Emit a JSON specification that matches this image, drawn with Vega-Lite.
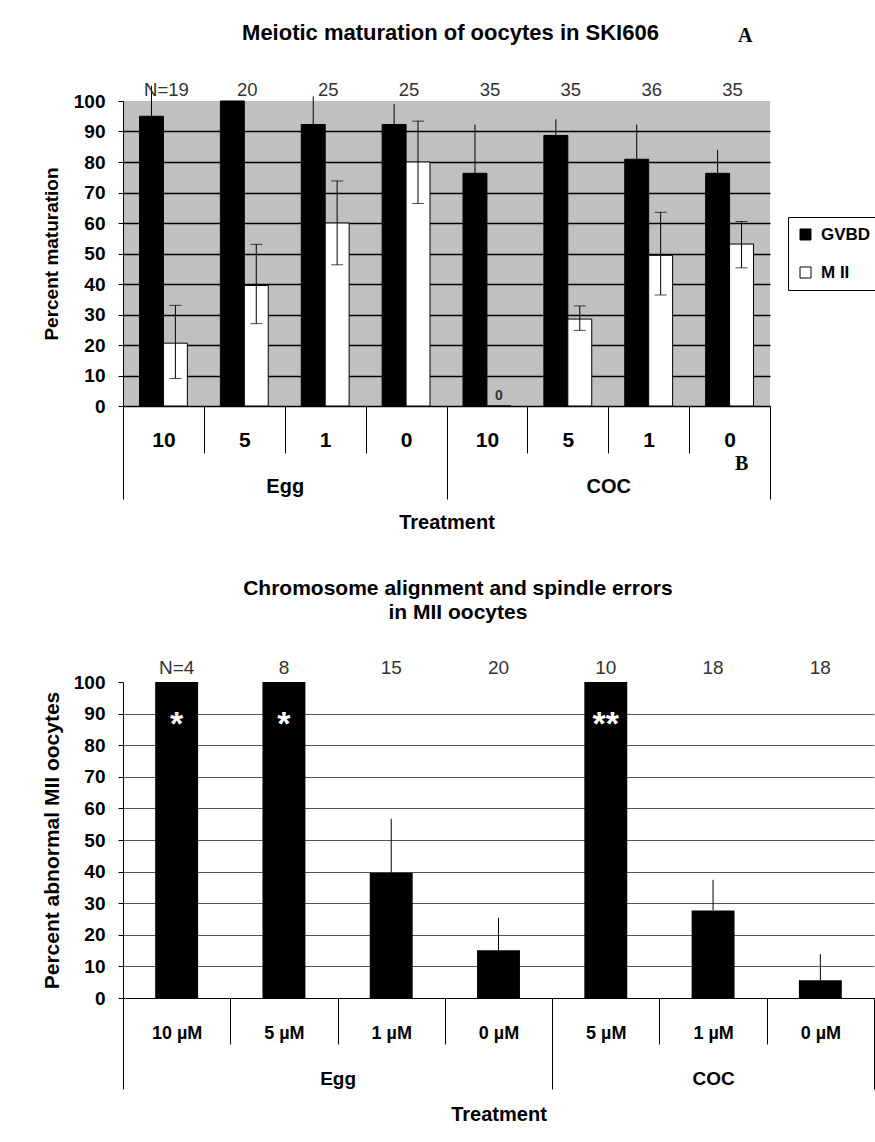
{
  "$schema": "https://vega.github.io/schema/vega-lite/v6.json",
  "background": "#ffffff",
  "padding": {"left": 41, "top": 22, "right": 0, "bottom": 10},
  "spacing": 45,
  "title": {"text": "A", "font": "Liberation Serif", "fontSize": 20, "fontWeight": "bold", "color": "#000000", "anchor": "end", "frame": "bounds", "offset": 0, "dx": -128, "dy": 24},
  "config": {
    "font": "Liberation Sans",
    "view": {"stroke": null},
    "axis": {"labelFont": "Liberation Sans", "titleFont": "Liberation Sans", "labelColor": "#000000", "titleColor": "#000000", "labelFontWeight": "bold", "titleFontWeight": "bold", "domainColor": "#000000", "tickColor": "#000000"},
    "axisY": {"tickCount": 20},
    "title": {"font": "Liberation Sans", "fontWeight": "bold", "color": "#000000"}
  },
  "resolve": {"scale": {"x": "independent", "y": "independent", "fill": "independent"}},
  "vconcat": [
    {
      "width": 647,
      "height": 305,
      "view": {"fill": "#c0c0c0", "stroke": null},
      "title": {"text": "Meiotic maturation of oocytes in SKI606", "fontSize": 22, "anchor": "middle", "frame": "group", "offset": 36, "dx": 4},
      "layer": [
        {
          "data": {"values": [
            {"cat": "Egg|10", "series": "GVBD", "value": 95, "hi": 105, "lab": ""},
            {"cat": "Egg|10", "series": "M II", "value": 20.6, "lo": 9, "hi": 33, "lab": ""},
            {"cat": "Egg|5", "series": "GVBD", "value": 100, "lab": ""},
            {"cat": "Egg|5", "series": "M II", "value": 39.5, "lo": 27, "hi": 53, "lab": ""},
            {"cat": "Egg|1", "series": "GVBD", "value": 92.3, "hi": 101.5, "lab": ""},
            {"cat": "Egg|1", "series": "M II", "value": 60, "lo": 46.3, "hi": 73.8, "lab": ""},
            {"cat": "Egg|0", "series": "GVBD", "value": 92.3, "hi": 99, "lab": ""},
            {"cat": "Egg|0", "series": "M II", "value": 80, "lo": 66.4, "hi": 93.4, "lab": ""},
            {"cat": "COC|10", "series": "GVBD", "value": 76.3, "hi": 92.3, "lab": ""},
            {"cat": "COC|10", "series": "M II", "value": 0, "lab": "0"},
            {"cat": "COC|5", "series": "GVBD", "value": 88.7, "hi": 94, "lab": ""},
            {"cat": "COC|5", "series": "M II", "value": 28.5, "lo": 24.8, "hi": 32.8, "lab": ""},
            {"cat": "COC|1", "series": "GVBD", "value": 80.9, "hi": 92.3, "lab": ""},
            {"cat": "COC|1", "series": "M II", "value": 49.4, "lo": 36.4, "hi": 63.5, "lab": ""},
            {"cat": "COC|0", "series": "GVBD", "value": 76.3, "hi": 84, "lab": ""},
            {"cat": "COC|0", "series": "M II", "value": 53.1, "lo": 45.3, "hi": 60.5, "lab": ""}
          ]},
          "encoding": {
            "x": {"field": "cat", "type": "nominal",
              "scale": {"domain": ["Egg|10", "Egg|5", "Egg|1", "Egg|0", "COC|10", "COC|5", "COC|1", "COC|0"], "paddingInner": 0, "paddingOuter": 0},
              "axis": {"title": null, "tickBand": "extent", "tickSize": 47, "tickWidth": 1, "domainWidth": 1, "labelExpr": "split(datum.label,'|')[1]", "labelFontSize": 21, "labelPadding": -24, "labelAngle": 0, "grid": false}}
          },
          "layer": [
            {
              "mark": {"type": "bar", "stroke": "#000000", "strokeWidth": 1},
              "encoding": {
                "xOffset": {"field": "series", "type": "nominal", "scale": {"domain": ["GVBD", "M II"], "paddingInner": 0, "paddingOuter": 0.69}},
                "y": {"field": "value", "type": "quantitative", "title": "Percent maturation",
                  "scale": {"domain": [0, 100], "nice": false},
                  "axis": {"values": [0, 10, 20, 30, 40, 50, 60, 70, 80, 90, 100], "tickCount": 20, "labelOverlap": false, "tickSize": 5, "labelPadding": 13, "labelFontSize": 19, "titleFontSize": 19, "titlePadding": 12, "grid": true, "gridColor": "#000000", "gridWidth": 1.3, "gridOpacity": {"condition": {"test": "datum.value == 100", "value": 0}, "value": 1}, "domainWidth": 1}},
                "fill": {"field": "series", "type": "nominal",
                  "scale": {"domain": ["GVBD", "M II"], "range": ["#000000", "#ffffff"]},
                  "legend": {"title": null, "orient": "none", "legendX": 665, "legendY": 116, "symbolType": "square", "symbolSize": 121, "symbolStrokeColor": "#000000", "symbolStrokeWidth": 1, "labelFontSize": 17, "labelFontWeight": "bold", "labelFont": "Liberation Sans", "labelColor": "#000000", "strokeColor": "#000000", "fillColor": "#ffffff", "padding": 9, "rowPadding": 20, "labelOffset": 7}}
              }
            },
            {
              "transform": [{"filter": "datum.series == 'GVBD' && isValid(datum.hi)"}],
              "mark": {"type": "rule", "color": "#000000", "strokeWidth": 1},
              "encoding": {
                "xOffset": {"field": "series", "type": "nominal", "scale": {"domain": ["GVBD", "M II"], "paddingInner": 0, "paddingOuter": 0.69}},
                "y": {"field": "value", "type": "quantitative", "title": "Percent maturation",
                  "axis": {"values": [0, 10, 20, 30, 40, 50, 60, 70, 80, 90, 100], "tickCount": 20, "labelOverlap": false, "tickSize": 5, "labelPadding": 13, "labelFontSize": 19, "titleFontSize": 19, "titlePadding": 12, "grid": true, "gridColor": "#000000", "gridWidth": 1.3, "gridOpacity": {"condition": {"test": "datum.value == 100", "value": 0}, "value": 1}, "domainWidth": 1}},
                "y2": {"field": "hi"}
              }
            },
            {
              "transform": [{"filter": "datum.series == 'M II' && isValid(datum.lo)"}],
              "mark": {"type": "rule", "color": "#000000", "strokeWidth": 1},
              "encoding": {
                "xOffset": {"field": "series", "type": "nominal", "scale": {"domain": ["GVBD", "M II"], "paddingInner": 0, "paddingOuter": 0.69}},
                "y": {"field": "lo", "type": "quantitative", "title": "Percent maturation",
                  "axis": {"values": [0, 10, 20, 30, 40, 50, 60, 70, 80, 90, 100], "tickCount": 20, "labelOverlap": false, "tickSize": 5, "labelPadding": 13, "labelFontSize": 19, "titleFontSize": 19, "titlePadding": 12, "grid": true, "gridColor": "#000000", "gridWidth": 1.3, "gridOpacity": {"condition": {"test": "datum.value == 100", "value": 0}, "value": 1}, "domainWidth": 1}},
                "y2": {"field": "hi"}
              }
            },
            {
              "transform": [{"filter": "datum.series == 'M II' && isValid(datum.lo)"}],
              "mark": {"type": "tick", "color": "#000000", "thickness": 1, "size": 12},
              "encoding": {
                "xOffset": {"field": "series", "type": "nominal", "scale": {"domain": ["GVBD", "M II"], "paddingInner": 0, "paddingOuter": 0.69}},
                "y": {"field": "lo", "type": "quantitative", "title": "Percent maturation",
                  "axis": {"values": [0, 10, 20, 30, 40, 50, 60, 70, 80, 90, 100], "tickCount": 20, "labelOverlap": false, "tickSize": 5, "labelPadding": 13, "labelFontSize": 19, "titleFontSize": 19, "titlePadding": 12, "grid": true, "gridColor": "#000000", "gridWidth": 1.3, "gridOpacity": {"condition": {"test": "datum.value == 100", "value": 0}, "value": 1}, "domainWidth": 1}}
              }
            },
            {
              "transform": [{"filter": "datum.series == 'M II' && isValid(datum.hi)"}],
              "mark": {"type": "tick", "color": "#000000", "thickness": 1, "size": 12},
              "encoding": {
                "xOffset": {"field": "series", "type": "nominal", "scale": {"domain": ["GVBD", "M II"], "paddingInner": 0, "paddingOuter": 0.69}},
                "y": {"field": "hi", "type": "quantitative", "title": "Percent maturation",
                  "axis": {"values": [0, 10, 20, 30, 40, 50, 60, 70, 80, 90, 100], "tickCount": 20, "labelOverlap": false, "tickSize": 5, "labelPadding": 13, "labelFontSize": 19, "titleFontSize": 19, "titlePadding": 12, "grid": true, "gridColor": "#000000", "gridWidth": 1.3, "gridOpacity": {"condition": {"test": "datum.value == 100", "value": 0}, "value": 1}, "domainWidth": 1}}
              }
            },
            {
              "mark": {"type": "text", "fontSize": 14, "fontWeight": "bold", "color": "#333333", "baseline": "bottom", "dy": -3},
              "encoding": {
                "xOffset": {"field": "series", "type": "nominal", "scale": {"domain": ["GVBD", "M II"], "paddingInner": 0, "paddingOuter": 0.69}},
                "y": {"field": "value", "type": "quantitative", "title": "Percent maturation",
                  "axis": {"values": [0, 10, 20, 30, 40, 50, 60, 70, 80, 90, 100], "tickCount": 20, "labelOverlap": false, "tickSize": 5, "labelPadding": 13, "labelFontSize": 19, "titleFontSize": 19, "titlePadding": 12, "grid": true, "gridColor": "#000000", "gridWidth": 1.3, "gridOpacity": {"condition": {"test": "datum.value == 100", "value": 0}, "value": 1}, "domainWidth": 1}},
                "text": {"field": "lab"}
              }
            },
            {
              "data": {"values": [
                {"cat": "Egg|10", "n": "N=19"},
                {"cat": "Egg|5", "n": "20"},
                {"cat": "Egg|1", "n": "25"},
                {"cat": "Egg|0", "n": "25"},
                {"cat": "COC|10", "n": "35"},
                {"cat": "COC|5", "n": "35"},
                {"cat": "COC|1", "n": "36"},
                {"cat": "COC|0", "n": "35"}
              ]},
              "mark": {"type": "text", "fontSize": 18.5, "color": "#333333", "baseline": "alphabetic", "dy": -5, "dx": 3},
              "encoding": {
                "y": {"datum": 100, "type": "quantitative", "title": "Percent maturation",
                  "axis": {"values": [0, 10, 20, 30, 40, 50, 60, 70, 80, 90, 100], "tickCount": 20, "labelOverlap": false, "tickSize": 5, "labelPadding": 13, "labelFontSize": 19, "titleFontSize": 19, "titlePadding": 12, "grid": true, "gridColor": "#000000", "gridWidth": 1.3, "gridOpacity": {"condition": {"test": "datum.value == 100", "value": 0}, "value": 1}, "domainWidth": 1}},
                "text": {"field": "n"}
              }
            },
            {
              "data": {"values": [{"t": "B"}]},
              "mark": {"type": "text", "font": "Liberation Serif", "fontSize": 20, "fontWeight": "bold", "color": "#000000", "baseline": "middle", "dx": 12},
              "encoding": {
                "x": {"datum": "COC|0"},
                "y": {"datum": -19, "type": "quantitative", "title": "Percent maturation",
                  "axis": {"values": [0, 10, 20, 30, 40, 50, 60, 70, 80, 90, 100], "tickCount": 20, "labelOverlap": false, "tickSize": 5, "labelPadding": 13, "labelFontSize": 19, "titleFontSize": 19, "titlePadding": 12, "grid": true, "gridColor": "#000000", "gridWidth": 1.3, "gridOpacity": {"condition": {"test": "datum.value == 100", "value": 0}, "value": 1}, "domainWidth": 1}},
                "text": {"field": "t"}
              }
            }
          ]
        },
        {
          "data": {"values": [{"t": 0}]},
          "mark": {"type": "rule", "opacity": 0},
          "encoding": {
            "x": {"datum": 0, "type": "quantitative",
              "scale": {"domain": [0, 8], "nice": false, "zero": false},
              "axis": {"orient": "bottom", "values": [0, 2, 4, 6, 8], "tickCount": 20, "tickSize": 93, "tickWidth": 1,
                "tickOpacity": {"condition": {"test": "datum.value == 2 || datum.value == 6", "value": 0}, "value": 1},
                "labelExpr": "datum.value == 2 ? 'Egg' : (datum.value == 6 ? 'COC' : '')",
                "labelFontSize": 20, "labelPadding": -23, "labelFlush": false, "labelOverlap": false,
                "domain": false, "grid": false, "title": "Treatment", "titleFontSize": 20, "titlePadding": 13}}
          }
        }
      ],
      "resolve": {"scale": {"x": "independent"}}
    },
    {
      "width": 751,
      "height": 316,
      "view": {"stroke": null},
      "title": {"text": ["Chromosome alignment and spindle errors", "in MII oocytes"], "fontSize": 21, "lineHeight": 24, "anchor": "middle", "frame": "bounds", "offset": 36},
      "layer": [
        {
          "data": {"values": [
            {"cat": "Egg|10 µM", "value": 100, "sig": "*", "n": "N=4"},
            {"cat": "Egg|5 µM", "value": 100, "sig": "*", "n": "8"},
            {"cat": "Egg|1 µM", "value": 39.6, "hi": 56.7, "sig": "", "n": "15"},
            {"cat": "Egg|0 µM", "value": 15.1, "hi": 25.4, "sig": "", "n": "20"},
            {"cat": "COC|5 µM", "value": 100, "sig": "**", "n": "10"},
            {"cat": "COC|1 µM", "value": 27.7, "hi": 37.4, "sig": "", "n": "18"},
            {"cat": "COC|0 µM", "value": 5.6, "hi": 13.9, "sig": "", "n": "18"}
          ]},
          "encoding": {
            "x": {"field": "cat", "type": "nominal",
              "scale": {"domain": ["Egg|10 µM", "Egg|5 µM", "Egg|1 µM", "Egg|0 µM", "COC|5 µM", "COC|1 µM", "COC|0 µM"], "paddingInner": 0, "paddingOuter": 0},
              "axis": {"title": null, "tickBand": "extent", "tickSize": 46, "tickWidth": 1, "domainWidth": 1, "labelExpr": "split(datum.label,'|')[1]", "labelFontSize": 18, "labelPadding": -20, "labelAngle": 0, "grid": false}}
          },
          "layer": [
            {
              "mark": {"type": "bar", "color": "#000000", "width": {"band": 0.4}},
              "encoding": {
                "y": {"field": "value", "type": "quantitative", "title": "Percent abnormal MII oocytes",
                  "scale": {"domain": [0, 100], "nice": false},
                  "axis": {"values": [0, 10, 20, 30, 40, 50, 60, 70, 80, 90, 100], "tickCount": 20, "labelOverlap": false, "tickSize": 5, "labelPadding": 13, "labelFontSize": 19, "titleFontSize": 21, "titlePadding": 11, "grid": true, "gridColor": "#555555", "gridWidth": 1, "gridOpacity": {"condition": {"test": "datum.value == 100", "value": 0}, "value": 1}, "domainWidth": 1}}
              }
            },
            {
              "transform": [{"filter": "isValid(datum.hi)"}],
              "mark": {"type": "rule", "color": "#000000", "strokeWidth": 1},
              "encoding": {
                "y": {"field": "value", "type": "quantitative", "title": "Percent abnormal MII oocytes",
                  "axis": {"values": [0, 10, 20, 30, 40, 50, 60, 70, 80, 90, 100], "tickCount": 20, "labelOverlap": false, "tickSize": 5, "labelPadding": 13, "labelFontSize": 19, "titleFontSize": 21, "titlePadding": 11, "grid": true, "gridColor": "#555555", "gridWidth": 1, "gridOpacity": {"condition": {"test": "datum.value == 100", "value": 0}, "value": 1}, "domainWidth": 1}},
                "y2": {"field": "hi"}
              }
            },
            {
              "mark": {"type": "text", "color": "#ffffff", "fontSize": 34, "fontWeight": "bold", "baseline": "alphabetic", "dy": 53},
              "encoding": {
                "y": {"field": "value", "type": "quantitative", "title": "Percent abnormal MII oocytes",
                  "axis": {"values": [0, 10, 20, 30, 40, 50, 60, 70, 80, 90, 100], "tickCount": 20, "labelOverlap": false, "tickSize": 5, "labelPadding": 13, "labelFontSize": 19, "titleFontSize": 21, "titlePadding": 11, "grid": true, "gridColor": "#555555", "gridWidth": 1, "gridOpacity": {"condition": {"test": "datum.value == 100", "value": 0}, "value": 1}, "domainWidth": 1}},
                "text": {"field": "sig"}
              }
            },
            {
              "mark": {"type": "text", "fontSize": 19, "color": "#333333", "baseline": "alphabetic", "dy": -8},
              "encoding": {
                "y": {"datum": 100, "type": "quantitative", "title": "Percent abnormal MII oocytes",
                  "axis": {"values": [0, 10, 20, 30, 40, 50, 60, 70, 80, 90, 100], "tickCount": 20, "labelOverlap": false, "tickSize": 5, "labelPadding": 13, "labelFontSize": 19, "titleFontSize": 21, "titlePadding": 11, "grid": true, "gridColor": "#555555", "gridWidth": 1, "gridOpacity": {"condition": {"test": "datum.value == 100", "value": 0}, "value": 1}, "domainWidth": 1}},
                "text": {"field": "n"}
              }
            }
          ]
        },
        {
          "data": {"values": [{"t": 0}]},
          "mark": {"type": "rule", "opacity": 0},
          "encoding": {
            "x": {"datum": 0, "type": "quantitative",
              "scale": {"domain": [0, 7], "nice": false, "zero": false},
              "axis": {"orient": "bottom", "values": [0, 2, 4, 5.5, 7], "tickCount": 20, "tickSize": 91, "tickWidth": 1,
                "tickOpacity": {"condition": {"test": "datum.value == 2 || datum.value == 5.5", "value": 0}, "value": 1},
                "labelExpr": "datum.value == 2 ? 'Egg' : (datum.value == 5.5 ? 'COC' : '')",
                "labelFontSize": 19, "labelPadding": -20, "labelFlush": false, "labelOverlap": false,
                "domain": false, "grid": false, "title": "Treatment", "titleFontSize": 20, "titlePadding": 15}}
          }
        }
      ],
      "resolve": {"scale": {"x": "independent"}}
    }
  ]
}
